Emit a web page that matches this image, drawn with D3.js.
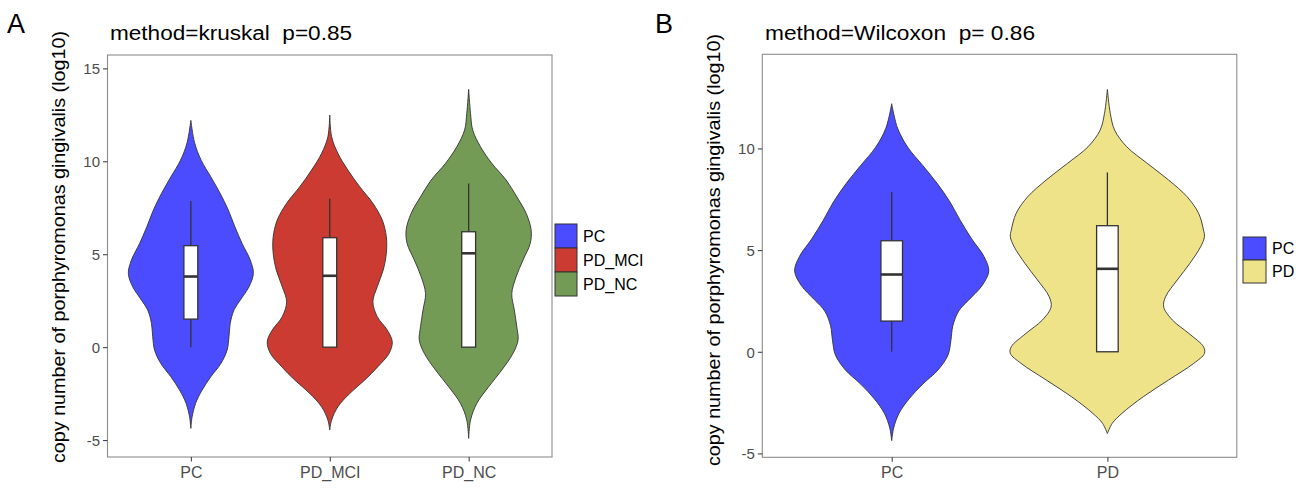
<!DOCTYPE html>
<html><head><meta charset="utf-8">
<script src="https://cdn.jsdelivr.net/npm/d3@7"></script>
<style>
html,body{margin:0;padding:0;background:#fff;}
svg text{font-family:"Liberation Sans",Arial,Helvetica,sans-serif;}
</style></head>
<body><svg id="chart" width="1310" height="489"></svg>
<script>
// ---------------- data ----------------
const categoriesA = ["PC", "PD_MCI", "PD_NC"];
const categoriesB = ["PC", "PD"];
const yTicksA = [-5, 0, 5, 10, 15];
const yTicksB = [-5, 0, 5, 10];
const titleA = "method=kruskal  p=0.85";
const titleB = "method=Wilcoxon  p= 0.86";
const yTitle = "copy number of porphyromonas gingivalis (log10)";

// violin density profiles: [log10 value, relative density (max = 1)]
const densityPC = [[12.2,0],[11.0,0.06],[10.06,0.165],[9.16,0.32],[8.27,0.47],[7.37,0.6],[6.47,0.705],[5.58,0.82],[4.69,0.95],[3.97,1.0],[3.25,0.93],[2.53,0.79],[2.0,0.69],[1.28,0.63],[0.56,0.61],[-0.16,0.58],[-0.88,0.48],[-1.59,0.32],[-2.31,0.18],[-3.03,0.075],[-3.75,0.02],[-4.37,0]];
const densityPD_MCI = [[12.49,0],[11.32,0.03],[10.43,0.13],[9.53,0.29],[8.63,0.48],[7.74,0.69],[6.84,0.84],[5.94,0.905],[5.05,0.905],[4.15,0.855],[3.25,0.76],[2.44,0.69],[1.64,0.76],[0.92,0.92],[0.29,1.0],[-0.33,0.95],[-1.05,0.77],[-1.77,0.56],[-2.49,0.32],[-3.21,0.13],[-3.92,0.03],[-4.46,0]];
const densityPD_NC = [[13.87,0],[12.58,0.03],[11.68,0.065],[10.78,0.19],[9.89,0.37],[8.99,0.6],[8.09,0.77],[7.2,0.92],[6.3,1.0],[5.58,0.985],[4.69,0.87],[3.79,0.76],[2.89,0.69],[2.0,0.73],[1.1,0.77],[0.38,0.79],[-0.33,0.71],[-1.23,0.53],[-2.13,0.32],[-3.03,0.13],[-3.92,0.03],[-4.91,0]];
const densityPD = [[12.9,0],[11.72,0.03],[10.9,0.075],[10.08,0.2],[9.27,0.41],[8.45,0.63],[7.63,0.82],[6.81,0.94],[5.99,0.99],[5.66,1.0],[5.16,0.96],[4.35,0.85],[3.53,0.72],[2.71,0.6],[2.21,0.58],[1.56,0.67],[0.9,0.84],[0.25,0.99],[-0.08,1.0],[-0.57,0.89],[-1.39,0.63],[-2.21,0.37],[-3.03,0.15],[-3.52,0.05],[-4.02,0]];

// box stats: [lower whisker, Q1, median, Q3, upper whisker]
const boxPC = [0, 1.51, 3.8, 5.46, 7.86];
const boxPD_MCI = [0, 0, 3.84, 5.89, 8.0];
const boxPD_NC = [0, 0, 5.05, 6.21, 8.81];
const boxPD = [0, 0, 4.08, 6.2, 8.82];

const colors = {PC: "#4b4bff", PD_MCI: "#cc3b31", PD_NC: "#749b56", PD: "#efe38a"};

// ---------------- drawing ----------------
const svg = d3.select("#chart");

function panel(opt) {
  const g = svg.append("g");
  const x = d3.scalePoint().domain(opt.categories).range([opt.left, opt.right]).padding(0.6);
  const step = x.step();
  const y = d3.scaleLinear().domain(opt.yDomain).range([opt.bottom, opt.top]);

  // violins
  const half = step * 0.45;
  opt.categories.forEach((c, i) => {
    const cx = x(c);
    const area = d3.area()
      .y(d => y(d[0]))
      .x0(d => cx - half * d[1])
      .x1(d => cx + half * d[1])
      .curve(d3.curveCatmullRom.alpha(0.5));
    g.append("path").datum(opt.densities[i])
      .attr("d", area)
      .attr("fill", colors[c])
      .attr("stroke", "#333")
      .attr("stroke-width", 0.9);
  });

  // boxplots
  const bw = step * 0.1;
  opt.categories.forEach((c, i) => {
    const b = opt.boxes[i];
    const cx = x(c);
    g.append("line").attr("x1", cx).attr("x2", cx).attr("y1", y(b[3])).attr("y2", y(b[4]))
      .attr("stroke", "#333").attr("stroke-width", 1.3);
    g.append("line").attr("x1", cx).attr("x2", cx).attr("y1", y(b[0])).attr("y2", y(b[1]))
      .attr("stroke", "#333").attr("stroke-width", 1.3);
    g.append("rect").attr("x", cx - bw / 2).attr("width", bw)
      .attr("y", y(b[3])).attr("height", Math.max(0, y(b[1]) - y(b[3])))
      .attr("fill", "#fff").attr("stroke", "#333").attr("stroke-width", 1.3);
    g.append("line").attr("x1", cx - bw / 2).attr("x2", cx + bw / 2).attr("y1", y(b[2])).attr("y2", y(b[2]))
      .attr("stroke", "#333").attr("stroke-width", 2.6);
  });

  // panel border
  g.append("rect").attr("x", opt.left).attr("y", opt.top)
    .attr("width", opt.right - opt.left).attr("height", opt.bottom - opt.top)
    .attr("fill", "none").attr("stroke", "#8c8c8c").attr("stroke-width", 1.1);

  // axes
  const ya = g.append("g").attr("transform", `translate(${opt.left},0)`)
    .call(d3.axisLeft(y).tickValues(opt.yTicks).tickSize(4.5).tickPadding(3).tickFormat(d => String(d)));
  ya.select(".domain").remove();
  ya.selectAll(".tick line").attr("stroke", "#333");
  ya.selectAll(".tick text").attr("fill", "#4d4d4d").style("font-size", "15px").attr("dy", "0.36em");

  const xa = g.append("g").attr("transform", `translate(0,${opt.bottom})`)
    .call(d3.axisBottom(x).tickSize(4.5).tickPadding(5));
  xa.select(".domain").remove();
  xa.selectAll(".tick line").attr("stroke", "#333");
  xa.selectAll(".tick text").attr("fill", "#4d4d4d").style("font-size", "16px");

  // titles
  g.append("text").attr("x", opt.titleX).attr("y", 40).text(opt.title)
    .style("font-size", "20px").style("white-space", "pre").attr("xml:space", "preserve")
    .attr("fill", "#000").attr("textLength", opt.titleLen).attr("lengthAdjust", "spacingAndGlyphs");
  g.append("text").attr("x", opt.tagX).attr("y", 33).text(opt.tag)
    .style("font-size", "27px").attr("fill", "#000");
  g.append("text")
    .attr("transform", `translate(${opt.yTitleX},${opt.yTitleY}) rotate(-90)`)
    .attr("text-anchor", "middle").text(yTitle)
    .style("font-size", "19px").attr("fill", "#000")
    .attr("textLength", 432).attr("lengthAdjust", "spacingAndGlyphs");

  // legend
  opt.categories.forEach((c, i) => {
    const ky = opt.legY + i * opt.legH;
    g.append("rect").attr("x", opt.legX).attr("y", ky).attr("width", opt.legW).attr("height", opt.legH)
      .attr("fill", colors[c]).attr("stroke", "#333").attr("stroke-width", 1);
    g.append("text").attr("x", opt.legX + opt.legW + 6).attr("y", ky + opt.legH / 2)
      .attr("dy", "0.36em").text(c).style("font-size", "16px").attr("fill", "#000");
  });
}

panel({
  categories: categoriesA, densities: [densityPC, densityPD_MCI, densityPD_NC],
  boxes: [boxPC, boxPD_MCI, boxPD_NC], yTicks: yTicksA,
  left: 107.5, right: 552, top: 55, bottom: 457, yDomain: [-5.91, 15.72],
  title: titleA, titleX: 110, titleLen: 242, tag: "A", tagX: 7,
  yTitleX: 65, yTitleY: 247,
  legX: 555, legY: 224, legW: 22, legH: 24
});
panel({
  categories: categoriesB, densities: [densityPC, densityPD],
  boxes: [boxPC, boxPD], yTicks: yTicksB,
  left: 762.3, right: 1236.8, top: 54.3, bottom: 457.3, yDomain: [-5.19, 14.63],
  title: titleB, titleX: 765, titleLen: 270, tag: "B", tagX: 655,
  yTitleX: 720, yTitleY: 250,
  legX: 1243, legY: 237, legW: 23, legH: 23
});
</script></body></html>
